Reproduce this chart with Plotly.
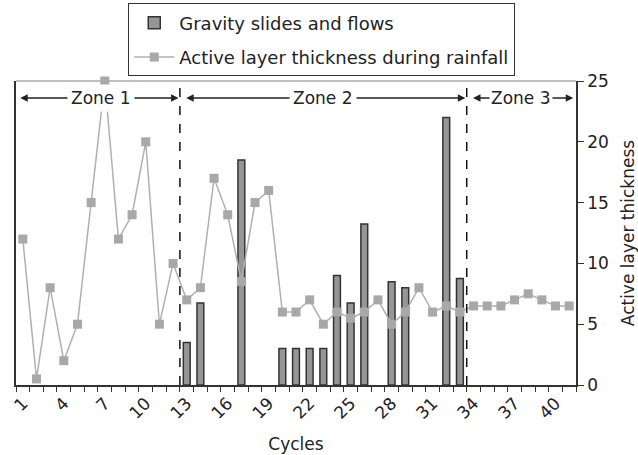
import plotly.graph_objects as go

cycles = list(range(1, 42))
active_layer = [12, 0.5, 8, 2, 5, 15, 25, 12, 14, 20, 5, 10, 7, 8, 17, 14, 8.5, 15, 16, 6,
                6, 7, 5, 6, 5.5, 6, 7, 5, 6, 8, 6, 6.5, 6, 6.5, 6.5, 6.5, 7, 7.5, 7, 6.5, 6.5]
slides = [None] * 41
slide_values = {13: 3.5, 14: 6.75, 17: 18.5, 20: 3, 21: 3, 22: 3, 23: 3, 24: 9, 25: 6.75,
                26: 13.25, 28: 8.5, 29: 8, 32: 22, 33: 8.75}
for c, v in slide_values.items():
    slides[c - 1] = v
tick_cycles = list(range(1, 41, 3))
zones = [("Zone 1", 1, 12), ("Zone 2", 13, 33), ("Zone 3", 34, 41)]
y_ticks = [0, 5, 10, 15, 20, 25]

FONT = "DejaVu Sans"
fig = go.Figure()
fig.add_trace(go.Bar(x=cycles, y=slides, name="Gravity slides and flows",
                     legendgroup="a",
                     marker=dict(color="#969696", line=dict(color="#333333", width=1.5)),
                     width=0.5))
fig.add_trace(go.Scatter(x=cycles, y=active_layer, mode="lines+markers",
                         name="Active layer thickness during rainfall", legendgroup="b",
                         cliponaxis=False,
                         line=dict(color="#b0b0b0", width=1.5),
                         marker=dict(symbol="square", size=9, color="#a8a8a8")))

shapes = []
for i, (name, s, e) in enumerate(zones[:-1]):
    shapes.append(dict(type="line", xref="x", yref="paper", x0=e + 0.5, x1=e + 0.5, y0=0, y1=1,
                       line=dict(color="#111111", width=1.5, dash="dash")))
shapes.append(dict(type="line", xref="paper", yref="paper", x0=0, x1=1, y0=1, y1=1,
                   line=dict(color="#aaaaaa", width=1.5), layer="below"))
fig.update_layout(shapes=shapes)

annotations = []
arrow_y = 23.6
for i, (name, s, e) in enumerate(zones):
    x0 = s - 0.5 + (0.2 if i == 0 else 0.35)
    x1 = e + 0.5 - (0.1 if i < 2 else 0.2)
    annotations.append(dict(x=x1, y=arrow_y, ax=x0, ay=arrow_y, xref="x", yref="y",
                            axref="x", ayref="y", text="", showarrow=True,
                            arrowhead=2, startarrowhead=2, arrowside="end+start",
                            arrowsize=1, arrowwidth=1.5, arrowcolor="#222222"))
    annotations.append(dict(x=(s + e) / 2 + (0.2 if i == 0 else 0), y=arrow_y, xref="x", yref="y",
                            text=name, showarrow=False, bgcolor="white",
                            borderpad=3 if i < 2 else 1,
                            font=dict(family=FONT, size=17, color="#222222")))
fig.update_layout(annotations=annotations)

fig.update_layout(
    width=638, height=455,
    margin=dict(l=16, r=62, t=81, b=70, autoexpand=False),
    plot_bgcolor="white", paper_bgcolor="white",
    font=dict(family=FONT, size=16, color="#222222"),
    barmode="overlay",
    showlegend=True,
    legend=dict(x=0.546, xanchor="center", y=1.255, yanchor="top",
                bordercolor="#333333", borderwidth=1, bgcolor="white",
                font=dict(family=FONT, size=18, color="#222222"),
                tracegroupgap=8, itemwidth=40),
    xaxis=dict(range=[0.5, 41.5], tickmode="array", tickvals=tick_cycles,
               ticktext=[str(c) for c in tick_cycles], tickangle=-45, ticks="",
               showline=True, linecolor="#333333", linewidth=1.5, showgrid=False, zeroline=False,
               minor=dict(tick0=0.5, dtick=1, ticks="outside", ticklen=5, tickcolor="#333333",
                          tickwidth=1, showgrid=False),
               title=dict(text="Cycles", font=dict(size=17), standoff=16),
               tickfont=dict(size=17), automargin=False),
    yaxis=dict(range=[0, 25], side="right", tickvals=y_ticks, ticks="outside", ticklen=6,
               tickcolor="#333333", showline=True, linecolor="#333333", linewidth=1.5,
               mirror=True, showgrid=False, zeroline=False,
               title=dict(text="Active layer thickness", font=dict(size=17)),
               tickfont=dict(size=17), automargin=False),
)
fig.write_html("out.html", config={"displayModeBar": False},
               post_script="document.body.style.margin='0';")
